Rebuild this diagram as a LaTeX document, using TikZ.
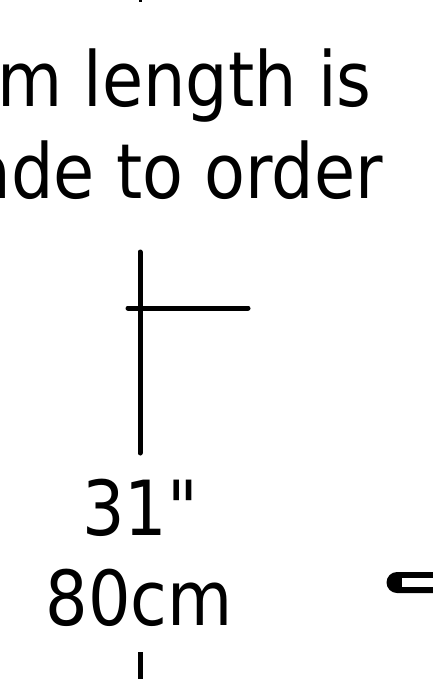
\documentclass[tikz,border=0pt]{standalone}
\usepackage{fontspec}
\setmainfont{DejaVu Sans}[FakeStretch=0.88, Ligatures=TeXOff]
\usepackage{tikz}

\tikzset{
  dimline/.style={line width=5pt},
  bigtext/.style={inner sep=0pt, font=\fontsize{76}{80}\selectfont}
}

\begin{document}
\begin{tikzpicture}[x=1pt, y=-1pt]
        \useasboundingbox (0, 0) rectangle (433, 679);
        \clip (0, 0) rectangle (433, 679);

        % Text
        \node [bigtext, anchor=base west] (line1) at (-3, 107) {m length is};
        \node [bigtext, anchor=base east] (line2) at (383, 198) {ade to order};
        \node [bigtext, anchor=base] (inch) at (140, 535) {31"};
        \node [bigtext, anchor=base] (metric) at (139, 625) {80cm};

        % Dimension marks
        \coordinate (mark) at (140, -3);
        \coordinate (marktip) at (140, 2);
        \coordinate (top) at (140, 252);
        \coordinate (tick) at (140, 453);
        \coordinate (armleft) at (128, 308);
        \coordinate (armright) at (248, 308);
        \coordinate (low) at (140, 652);
        \coordinate (bottom) at (140, 682);
        \draw [line width=3pt] (mark) -- (marktip);
        \draw [dimline, line cap=round] (top) -- (tick);
        \draw [dimline, line cap=round] (armleft) -- (armright);
        \draw [dimline] (low) -- (bottom);

        % Bar on the right
        \fill (445, 572) -- (397, 572) arc (-90:-270:10.5) -- (445, 593) -- cycle;
        \fill [white] (402, 577.5) rectangle (445, 586.5);
      \end{tikzpicture}
\end{document}
